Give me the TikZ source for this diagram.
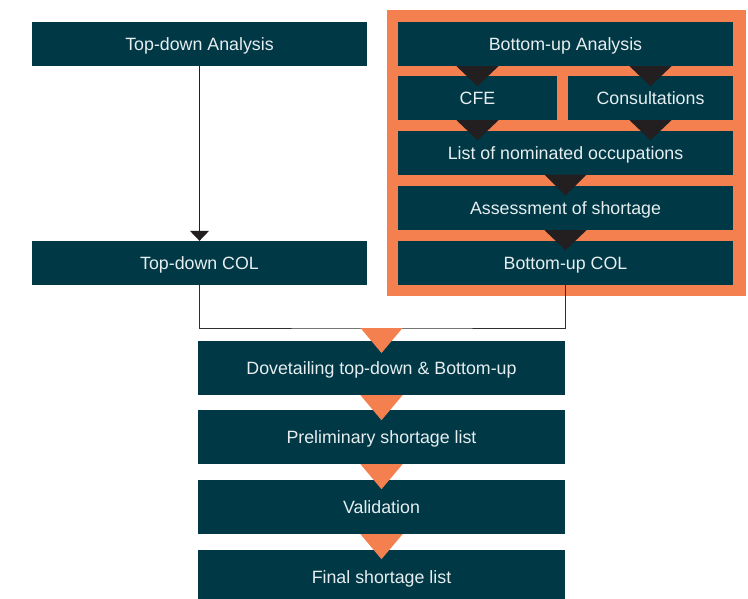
\documentclass[tikz,border=0pt]{standalone}
\usepackage{fontspec}
\setmainfont{Liberation Sans}
\usetikzlibrary{calc,arrows.meta}
\definecolor{boxteal}{HTML}{003845}
\definecolor{boxtext}{HTML}{E6EEF0}
\definecolor{accent}{HTML}{F48050}
\definecolor{tipdark}{HTML}{231F20}
\definecolor{linegray}{HTML}{2E2E2E}

% downward pointing triangle: colour, apex-top point, half width, height
\newcommand\flowtip[4]{\fill[#1] ($#2+(-#3,0)$) -- ($#2+(#3,0)$) -- ($#2+(0,#4)$) -- cycle;}

\begin{document}
\begin{tikzpicture}[x=1pt,y=-1pt,
  box/.style={fill=boxteal, text=boxtext, inner sep=0pt, minimum height=44pt,
    text height=13pt, text depth=0pt,
    font=\fontsize{17.8}{20}\selectfont},
  widebox/.style={box, minimum width=335pt},
  flowbox/.style={box, minimum width=367pt, minimum height=54pt},
  conn/.style={draw=linegray, line width=1pt}]
\clip (0,0) rectangle (748,598);
\fill[white] (0,0) rectangle (748,598);

% bottom-up frame
\node[fill=accent, inner sep=0pt, minimum width=359pt, minimum height=286pt] (frame) at (566.5,153) {};

% left column
\node[widebox] (tda) at (199.5,44) {Top-down Analysis};
\node[widebox] (tdc) at (199.5,263) {Top-down COL};

% bottom-up column
\node[widebox] (bua) at (565.5,44) {Bottom-up Analysis};
\node[box, minimum width=159pt] (cfe) at (477.5,98) {CFE};
\node[box, minimum width=165pt] (con) at (650.5,98) {Consultations};
\node[widebox, minimum height=43.5pt] (list) at (565.5,152.75) {List of nominated occupations};
\node[widebox] (ass) at (565.5,208) {Assessment of shortage};
\node[widebox] (buc) at (565.5,263) {Bottom-up COL};

% merged flow
\node[flowbox] (dov) at (381.5,368) {Dovetailing top-down \& Bottom-up};
\node[flowbox] (pre) at (381.5,437) {Preliminary shortage list};
\node[flowbox] (val) at (381.5,507) {Validation};
\node[flowbox] (fin) at (381.5,577) {Final shortage list};

% dark step markers inside the frame
\coordinate (t1) at (cfe.north |- bua.south);
\coordinate (t2) at (con.north |- bua.south);
\coordinate (t3) at (cfe.south);
\coordinate (t4) at (con.south);
\flowtip{tipdark}{(t1)}{21}{20}
\flowtip{tipdark}{(t2)}{21}{20}
\flowtip{tipdark}{(t3)}{21}{20}
\flowtip{tipdark}{(t4)}{21}{20}
\flowtip{tipdark}{(list.south)}{21}{21}
\flowtip{tipdark}{(ass.south)}{21}{20}

% connectors
\draw[conn, -{Triangle[width=19pt,length=10pt]}, tipdark] (tda.south) -- (tdc.north);
\coordinate (join) at (381.5,328);
\draw[conn] (tdc.south) |- (join) -| (buc.south);

% orange step markers
\flowtip{accent}{(join)}{21}{25}
\flowtip{accent}{(dov.south)}{21}{25}
\flowtip{accent}{(pre.south)}{21}{25}
\flowtip{accent}{(val.south)}{21}{25}
\end{tikzpicture}
\end{document}
